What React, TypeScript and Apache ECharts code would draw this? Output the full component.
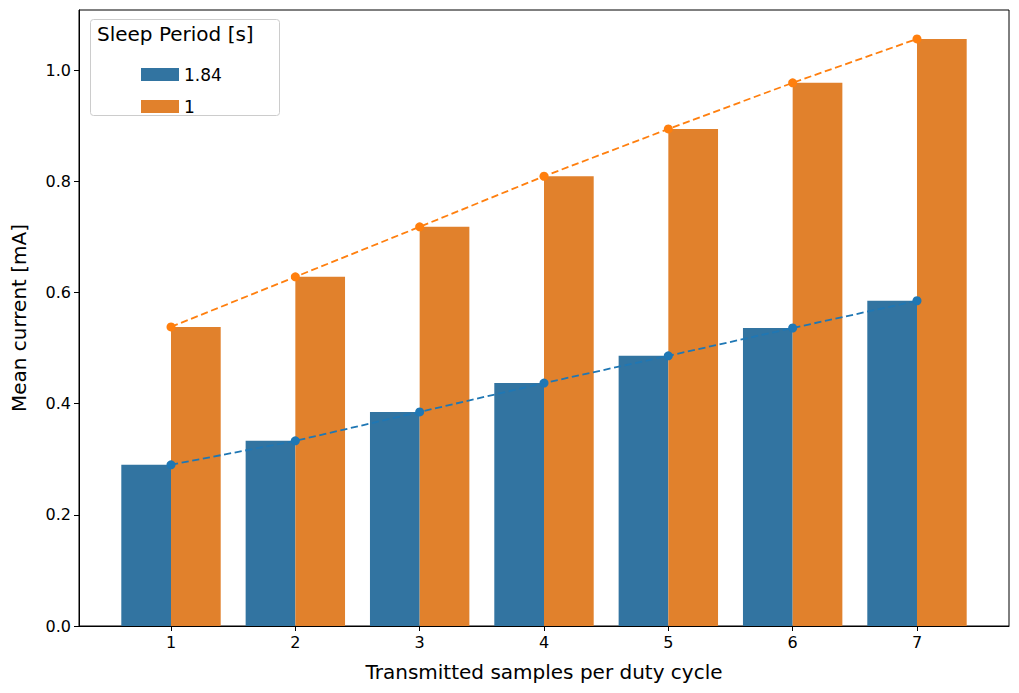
import React, { useEffect, useRef } from 'react';
import * as echarts from 'echarts';

const samples = [1, 2, 3, 4, 5, 6, 7];
const current184 = [0.29, 0.333, 0.385, 0.437, 0.486, 0.536, 0.585];
const current1 = [0.538, 0.628, 0.718, 0.809, 0.894, 0.977, 1.056];
const yTicks = [0, 0.2, 0.4, 0.6, 0.8, 1.0];

const App: React.FC = () => {
  const chartRef = useRef<HTMLDivElement>(null);
  useEffect(() => {
    document.body.style.margin = '0';
    const chart = echarts.init(chartRef.current as HTMLDivElement, undefined, { renderer: 'svg' });
    const font = 'DejaVu Sans';
    const option: echarts.EChartsOption = {
      animation: false,
      textStyle: { fontFamily: font },
      grid: { left: 79, right: 10, top: 10, bottom: 67, show: true, borderColor: '#000', borderWidth: 1 },
      legend: {
        data: ['1.84', '1'],
        orient: 'vertical',
        left: 136,
        top: 61,
        itemWidth: 38,
        itemHeight: 13,
        itemGap: 15,
        textStyle: { fontSize: 17, color: '#000', fontFamily: font },
        icon: 'rect',
      },
      graphic: [
        {
          type: 'rect',
          left: 90,
          top: 19,
          z: 0,
          shape: { width: 189, height: 96, r: 3 },
          style: { fill: 'rgba(255,255,255,0.8)', stroke: '#ccc', lineWidth: 1 },
        },
        {
          type: 'text',
          left: 97,
          top: 24,
          style: { text: 'Sleep Period [s]', fontSize: 20, fill: '#000', fontFamily: font },
        },
      ],
      xAxis: {
        type: 'value',
        min: 0.26,
        max: 7.74,
        name: 'Transmitted samples per duty cycle',
        nameLocation: 'middle',
        nameGap: 36,
        nameTextStyle: { fontSize: 20, color: '#000', fontFamily: font },
        axisLine: { show: true, lineStyle: { color: '#000' } },
        axisTick: { show: true, customValues: samples, length: 5, lineStyle: { color: '#000' } },
        axisLabel: { customValues: samples, fontSize: 16, color: '#000', margin: 8, fontFamily: font },
        splitLine: { show: false },
      },
      yAxis: {
        type: 'value',
        min: 0,
        max: 1.108,
        name: 'Mean current [mA]',
        nameLocation: 'middle',
        nameGap: 50,
        nameTextStyle: { fontSize: 20, color: '#000', fontFamily: font },
        axisLine: { show: true, lineStyle: { color: '#000' } },
        axisTick: { show: true, customValues: yTicks, length: 5, lineStyle: { color: '#000' } },
        axisLabel: {
          customValues: yTicks,
          fontSize: 16,
          color: '#000',
          fontFamily: font,
          formatter: (v: number) => v.toFixed(1),
        },
        splitLine: { show: false },
      },
      series: [
        {
          name: '1.84',
          type: 'bar',
          barWidth: 49.7,
          barGap: '0%',
          itemStyle: { color: '#3274a1' },
          data: samples.map((s, i) => [s, current184[i]]),
        },
        {
          name: '1',
          type: 'bar',
          barWidth: 49.7,
          barGap: '0%',
          itemStyle: { color: '#e1812c' },
          data: samples.map((s, i) => [s, current1[i]]),
        },
        {
          name: 'fit184',
          type: 'line',
          symbol: 'circle',
          symbolSize: 9,
          lineStyle: { type: 'dashed', width: 1.8, color: '#1f77b4' },
          itemStyle: { color: '#1f77b4' },
          data: samples.map((s, i) => [s, current184[i]]),
          z: 3,
        },
        {
          name: 'fit1',
          type: 'line',
          symbol: 'circle',
          symbolSize: 9,
          lineStyle: { type: 'dashed', width: 1.8, color: '#ff7f0e' },
          itemStyle: { color: '#ff7f0e' },
          data: samples.map((s, i) => [s, current1[i]]),
          z: 3,
        },
      ],
    };
    chart.setOption(option);
    return () => {
      chart.dispose();
    };
  }, []);

  return <div ref={chartRef} style={{ width: '1019px', height: '693px' }} />;
};

export default App;
